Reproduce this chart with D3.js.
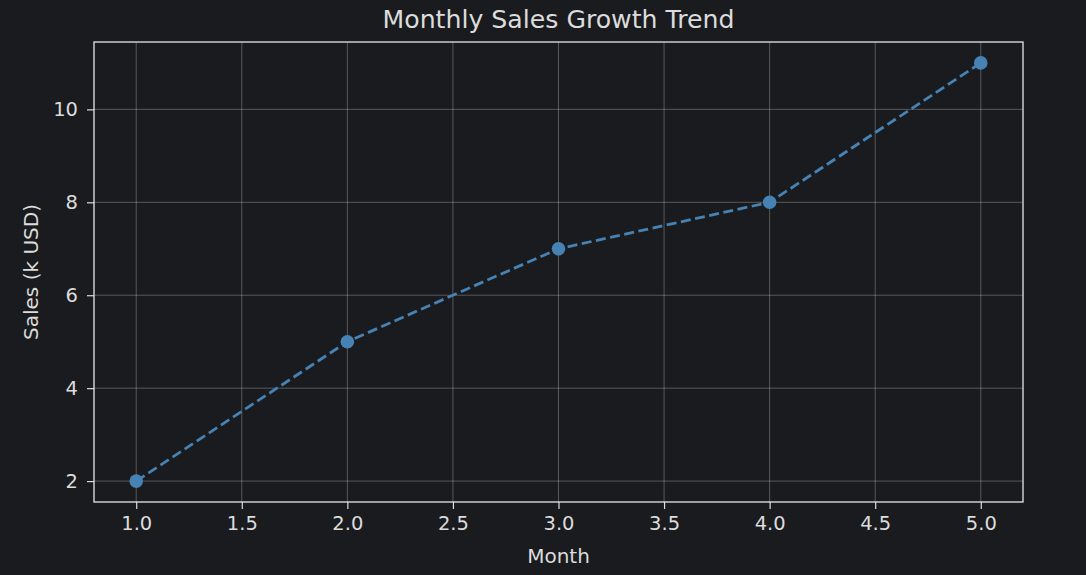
<!DOCTYPE html>
<html lang="en">
<head>
    <meta charset="UTF-8">
    <title>Monthly Sales Growth Trend</title>
    <script src="https://d3js.org/d3.v7.min.js"></script>
    <style>
        html, body { margin: 0; padding: 0; background: #1a1b1e; }
        svg { display: block; }
        .tick text { font-family: "DejaVu Sans", sans-serif; font-size: 19.5px; fill: #dcdcdc; }
        .label { font-family: "DejaVu Sans", sans-serif; fill: #dcdcdc; }
    </style>
</head>
<body>
<div id="chart"></div>
<script>
    // data
    const months = [1, 2, 3, 4, 5];
    const sales = [2, 5, 7, 8, 11];
    const xTicks = [1.0, 1.5, 2.0, 2.5, 3.0, 3.5, 4.0, 4.5, 5.0];
    const yTicks = [2, 4, 6, 8, 10];

    const width = 1086, height = 575;
    const margin = { top: 42, right: 63, bottom: 73, left: 94 };
    const innerW = width - margin.left - margin.right;
    const innerH = height - margin.top - margin.bottom;

    const svg = d3.select("#chart").append("svg")
        .attr("width", width)
        .attr("height", height);

    // matplotlib-like 5% padding
    const xPad = (d3.max(months) - d3.min(months)) * 0.05;
    const yPad = (d3.max(sales) - d3.min(sales)) * 0.05;
    const x = d3.scaleLinear()
        .domain([d3.min(months) - xPad, d3.max(months) + xPad])
        .range([0, innerW]);
    const y = d3.scaleLinear()
        .domain([d3.min(sales) - yPad, d3.max(sales) + yPad])
        .range([innerH, 0]);

    const g = svg.append("g").attr("transform", `translate(${margin.left},${margin.top})`);

    // grid
    g.append("g").selectAll("line").data(xTicks).enter().append("line")
        .attr("x1", d => x(d)).attr("x2", d => x(d))
        .attr("y1", 0).attr("y2", innerH)
        .attr("stroke", "#ffffff").attr("stroke-opacity", 0.27).attr("stroke-width", 1);
    g.append("g").selectAll("line").data(yTicks).enter().append("line")
        .attr("y1", d => y(d)).attr("y2", d => y(d))
        .attr("x1", 0).attr("x2", innerW)
        .attr("stroke", "#ffffff").attr("stroke-opacity", 0.27).attr("stroke-width", 1);

    // axes
    const xAxis = g.append("g")
        .attr("transform", `translate(0,${innerH})`)
        .call(d3.axisBottom(x).tickValues(xTicks).tickFormat(d3.format(".1f")).tickSize(7).tickPadding(7));
    const yAxis = g.append("g")
        .call(d3.axisLeft(y).tickValues(yTicks).tickFormat(d3.format("d")).tickSize(7).tickPadding(9));
    [xAxis, yAxis].forEach(a => {
        a.select(".domain").remove();
        a.selectAll(".tick line").attr("stroke", "#dcdcdc").attr("stroke-width", 1.2);
    });

    // frame
    g.append("rect")
        .attr("x", 0).attr("y", 0)
        .attr("width", innerW).attr("height", innerH)
        .attr("fill", "none").attr("stroke", "#e6e6e6").attr("stroke-width", 1.3);

    // line + markers
    const pts = months.map((m, i) => [m, sales[i]]);
    g.append("path")
        .datum(pts)
        .attr("fill", "none")
        .attr("stroke", "#4682b4")
        .attr("stroke-width", 2.8)
        .attr("stroke-dasharray", "10,4.5")
        .attr("d", d3.line().x(d => x(d[0])).y(d => y(d[1])));
    g.selectAll("circle.pt").data(pts).enter().append("circle")
        .attr("class", "pt")
        .attr("cx", d => x(d[0])).attr("cy", d => y(d[1]))
        .attr("r", 6.8)
        .attr("fill", "#4682b4");

    // titles
    svg.append("text").attr("class", "label")
        .attr("x", margin.left + innerW / 2).attr("y", 28)
        .attr("text-anchor", "middle").attr("font-size", 25.2)
        .text("Monthly Sales Growth Trend");
    svg.append("text").attr("class", "label")
        .attr("x", margin.left + innerW / 2).attr("y", 563)
        .attr("text-anchor", "middle").attr("font-size", 20)
        .text("Month");
    svg.append("text").attr("class", "label")
        .attr("transform", `translate(38,${margin.top + innerH / 2}) rotate(-90)`)
        .attr("text-anchor", "middle").attr("font-size", 20)
        .text("Sales (k USD)");
</script>
</body>
</html>
